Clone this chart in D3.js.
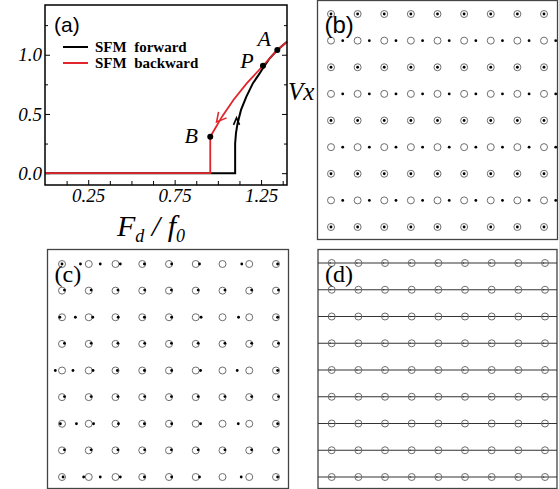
<!DOCTYPE html>
<html>
<head>
<meta charset="utf-8">
<script src="https://cdn.jsdelivr.net/npm/d3@7"></script>
<style>
  body { margin: 0; background: #fff; }
  svg { display: block; }
</style>
</head>
<body>
<script>
// panel (a): drift velocity vs drive
const forwardX = [0, 1.10, 1.10, 1.105, 1.114, 1.134, 1.165, 1.203, 1.236, 1.258, 1.30, 1.344, 1.40];
const forwardY = [0, 0, 0.25, 0.34, 0.42, 0.534, 0.647, 0.76, 0.83, 0.88, 0.97, 1.04, 1.11];
const backwardX = [1.40, 1.344, 1.261, 1.168, 1.091, 1.024, 0.985, 0.956, 0.956, 0];
const backwardY = [1.11, 1.04, 0.907, 0.76, 0.62, 0.477, 0.379, 0.308, 0, 0];
const markNames = ["A", "P", "B"];
const markX = [1.344, 1.261, 0.956];
const markY = [1.04, 0.907, 0.308];
const xMajorTicks = [0.25, 0.75, 1.25];
const xMinorTicks = [0.125, 0.375, 0.5, 0.625, 0.875, 1.0, 1.125, 1.375];
const yMajorTicks = [0.0, 0.5, 1.0];
const yMinorTicks = [0.25, 0.75, 1.25];
const legendLabels = ["SFM  forward", "SFM  backward"];

// panels (b)-(d): 9x9 lattice of big particles, small-particle dot offsets (in lattice units)
const latticeIdx = [0, 1, 2, 3, 4, 5, 6, 7, 8];
const bRowDotShift = [0, 0.44, 0, 0.44, 0, 0.44, 0, 0.44, 0];
const cChannelRows = [0, 2, 4, 6, 8];
const cChannelDots = [
  [0, 0.69, 1.43, 2.18, 3.08, 4.1, 5.14, 6.72, 8.06],
  [-0.08, 0.5, 1.15, 2.1, 3.08, 4.1, 5.2, 6.6, 8.06],
  [-0.25, 0.41, 1.16, 2.07, 3.08, 4.1, 5.18, 6.55, 8.06],
  [-0.06, 0.54, 1.18, 2.11, 3.08, 4.1, 5.18, 6.59, 8.06],
  [0.04, 0.81, 1.43, 2.18, 3.08, 4.1, 5.14, 6.7, 8.06]
];
const cLatticeRows = [1, 3, 5, 7];
const cLatticeDotShift = 0.09;
const dRows = [0, 1, 2, 3, 4, 5, 6, 7, 8];

const SERIF = "'Liberation Serif', 'DejaVu Serif', serif";
const SANS = "'Liberation Sans', Arial, sans-serif";
const W = 559, H = 489;
const svg = d3.select("body").append("svg").attr("width", W).attr("height", H);
svg.append("rect").attr("width", W).attr("height", H).attr("fill", "#fff");

// ---------- panel (a)
const x = d3.scaleLinear().domain([0, 1.4]).range([45, 287]);
const y = d3.scaleLinear().domain([-0.1, 1.42]).range([185, 5]);
const a = svg.append("g");

function styleAxis(g) {
  g.attr("font-family", SERIF).attr("font-size", 19);
  g.select(".domain").remove();
  g.selectAll("line").attr("stroke", "#000").attr("stroke-width", 1);
  g.selectAll("text").attr("font-family", SERIF).attr("font-style", "italic")
    .attr("font-size", 19).attr("fill", "#000");
}
a.append("g").attr("transform", "translate(0,185)")
  .call(d3.axisBottom(x).tickValues(xMajorTicks).tickSize(-5).tickPadding(4).tickFormat(d3.format(".2f")))
  .call(styleAxis);
a.append("g").attr("transform", "translate(0,185)")
  .call(d3.axisBottom(x).tickValues(xMinorTicks).tickSize(-4).tickFormat(""))
  .call(styleAxis);
a.append("g").attr("transform", "translate(45,0)")
  .call(d3.axisLeft(y).tickValues(yMajorTicks).tickSize(-5).tickPadding(3).tickFormat(d3.format(".1f")))
  .call(styleAxis);
a.append("g").attr("transform", "translate(45,0)")
  .call(d3.axisLeft(y).tickValues(yMinorTicks).tickSize(-3).tickFormat(""))
  .call(styleAxis);
a.append("g").attr("transform", "translate(287,0)")
  .call(d3.axisRight(y).tickValues(yMajorTicks).tickSize(-5).tickFormat(""))
  .call(styleAxis);
a.append("g").attr("transform", "translate(287,0)")
  .call(d3.axisRight(y).tickValues(yMinorTicks).tickSize(-3).tickFormat(""))
  .call(styleAxis);

const line = d3.line().x(d => x(d[0])).y(d => y(d[1]));
a.append("path").datum(d3.zip(forwardX, forwardY))
  .attr("d", line).attr("fill", "none").attr("stroke", "#000").attr("stroke-width", 2);
a.append("path").datum(d3.zip(backwardX, backwardY))
  .attr("d", line).attr("fill", "none").attr("stroke", "#e0262c").attr("stroke-width", 1.8);

// direction arrows
const fa = [x(1.108), y(0.45)];
a.append("path")
  .attr("d", `M${fa[0] - 3},${fa[1] + 5}L${fa[0]},${fa[1] - 2}L${fa[0] + 3},${fa[1] + 5}`)
  .attr("fill", "none").attr("stroke", "#000").attr("stroke-width", 1.6);
const ba = [x(1.01), y(0.45)];
a.append("path")
  .attr("d", `M${ba[0] - 1},${ba[1] - 8}L${ba[0] - 3},${ba[1] + 2}L${ba[0] + 7},${ba[1] - 2}`)
  .attr("fill", "none").attr("stroke", "#e0262c").attr("stroke-width", 1.6);

a.selectAll("circle.mark").data(markNames).join("circle")
  .attr("cx", (_, i) => x(markX[i])).attr("cy", (_, i) => y(markY[i]))
  .attr("r", 3).attr("fill", "#000");
const markDx = [-13, -16, -19], markDy = [-4, 2, 6];
a.selectAll("text.mark").data(markNames).join("text")
  .attr("font-family", SERIF).attr("font-style", "italic").attr("font-size", 22)
  .attr("x", (_, i) => x(markX[i]) + markDx[i]).attr("y", (_, i) => y(markY[i]) + markDy[i])
  .attr("text-anchor", "middle").text(d => d);

a.append("rect").attr("x", 45).attr("y", 5).attr("width", 242).attr("height", 180)
  .attr("fill", "none").attr("stroke", "#000").attr("stroke-width", 1.5);

// legend
const legendColors = ["#000", "#e0262c"];
legendLabels.forEach((lab, i) => {
  const ly = 47 + i * 16;
  a.append("line").attr("x1", 63).attr("x2", 88).attr("y1", ly).attr("y2", ly)
    .attr("stroke", legendColors[i]).attr("stroke-width", 2);
  a.append("text").attr("font-family", SERIF).attr("font-weight", "bold").attr("font-size", 15)
    .attr("x", 95).attr("y", ly + 5).attr("xml:space", "preserve").text(lab);
});
a.append("text").attr("font-family", SANS).attr("font-size", 21).attr("x", 54).attr("y", 32).text("(a)");
a.append("text").attr("font-family", SERIF).attr("font-style", "italic").attr("font-size", 25)
  .attr("x", 288).attr("y", 100).text("Vx");

const xl = a.append("text").attr("font-family", SERIF).attr("font-style", "italic")
  .attr("font-size", 30).attr("x", 117).attr("y", 236).attr("xml:space", "preserve");
xl.append("tspan").text("F");
xl.append("tspan").attr("font-size", 18).attr("dy", 6).text("d");
xl.append("tspan").attr("dy", -6).text(" / f");
xl.append("tspan").attr("font-size", 18).attr("dy", 6).text("0");

// ---------- lattice panels
function panel(frame, xr, yr, label, labelFont) {
  const g = svg.append("g");
  g.append("rect").attr("x", frame[0]).attr("y", frame[1])
    .attr("width", frame[2] - frame[0]).attr("height", frame[3] - frame[1])
    .attr("fill", "#fff").attr("stroke", "#444").attr("stroke-width", 1.3);
  const gx = d3.scaleLinear().domain([0, 8]).range(xr);
  const gy = d3.scaleLinear().domain([0, 8]).range(yr);
  return { g, gx, gy, label: () =>
    g.append("text").attr("font-family", labelFont).attr("font-size", 24)
      .attr("x", frame[0] + 7).attr("y", frame[1] + 32).text(label) };
}
const cells = latticeIdx.flatMap(r => latticeIdx.map(c => [r, c]));

function bigCircles(p) {
  p.g.selectAll("circle.big").data(cells).join("circle")
    .attr("cx", d => p.gx(d[1])).attr("cy", d => p.gy(d[0])).attr("r", 3.5)
    .attr("fill", "none").attr("stroke", "#6e6e6e").attr("stroke-width", 1);
}

// (b)
const pb = panel([317.5, 0.5, 557.5, 239.5], [331, 544], [14, 227], "(b)", SANS);
bigCircles(pb);
pb.g.selectAll("circle.dot").data(cells).join("circle")
  .attr("cx", d => pb.gx(d[1] + bRowDotShift[d[0]])).attr("cy", d => pb.gy(d[0]))
  .attr("r", 1.4).attr("fill", "#000");
pb.label();

// (c)
const pc = panel([47.5, 249.5, 288.5, 488.5], [62, 276], [264, 477], "(c)", SERIF);
bigCircles(pc);
const cDots = cChannelRows.flatMap((r, i) => cChannelDots[i].map(v => [r, v]))
  .concat(cLatticeRows.flatMap(r => latticeIdx.map(c => [r, c + cLatticeDotShift])));
pc.g.selectAll("circle.dot").data(cDots).join("circle")
  .attr("cx", d => pc.gx(d[1])).attr("cy", d => pc.gy(d[0]) - (d[0] % 2 ? 0.6 : 0))
  .attr("r", 1.4).attr("fill", "#000");
pc.label();

// (d)
const pd = panel([318, 249.5, 557, 488.5], [331.7, 545], [263, 477], "(d)", SERIF);
pd.g.selectAll("line.row").data(dRows).join("line")
  .attr("x1", 318).attr("x2", 557).attr("y1", d => pd.gy(d)).attr("y2", d => pd.gy(d))
  .attr("stroke", "#333").attr("stroke-width", 1);
bigCircles(pd);
pd.g.selectAll("circle.dot").data(cells).join("circle")
  .attr("cx", d => pd.gx(d[1]) - 1.5).attr("cy", d => pd.gy(d[0]))
  .attr("r", 0.8).attr("fill", "#333");
pd.label();
</script>
</body>
</html>
